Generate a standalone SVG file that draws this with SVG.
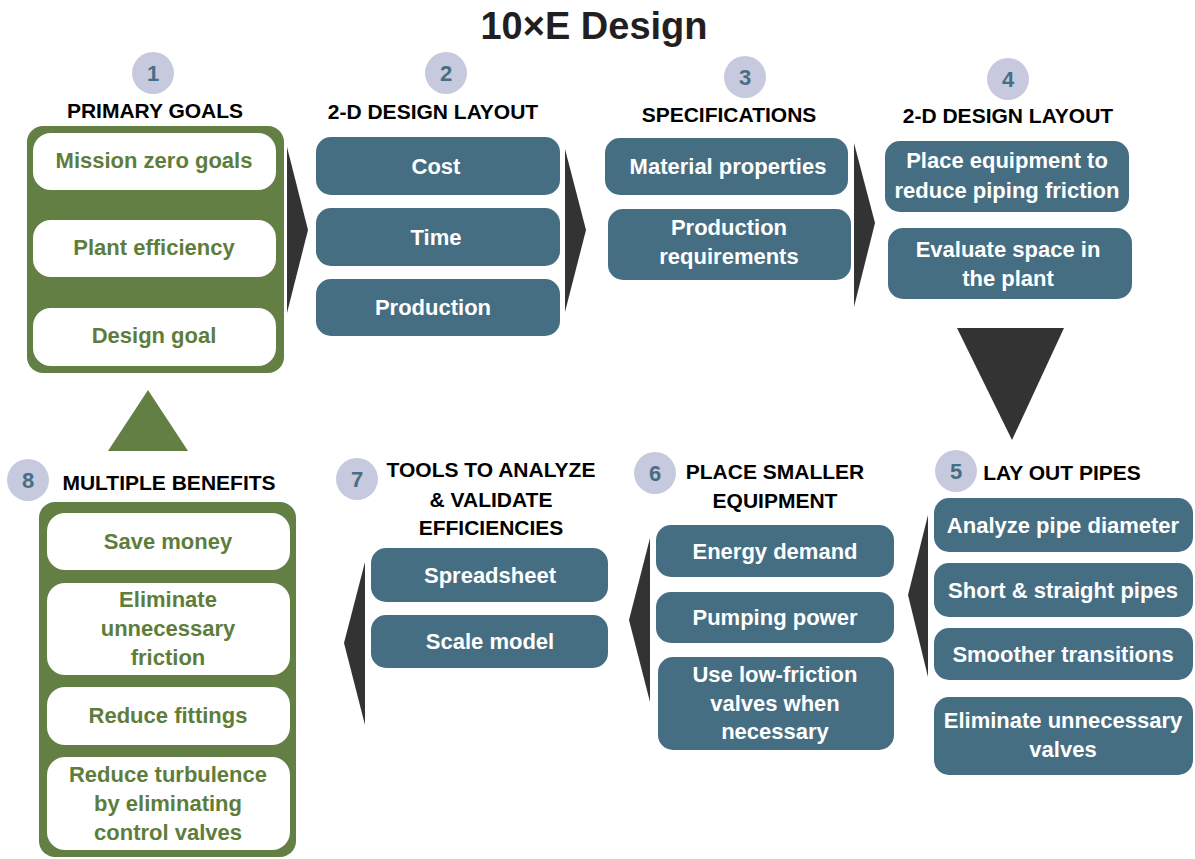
<svg xmlns="http://www.w3.org/2000/svg" width="1195" height="859" viewBox="0 0 1195 859">
  <style>
    text { font-family: "Liberation Sans", Arial, sans-serif; font-weight: bold; text-anchor: middle; }
    .title { font-size: 38px; fill: #231f20; }
    .head { font-size: 21px; fill: #000; }
    .num { font-size: 22px; fill: #466f84; }
    .badge { fill: #c7c9de; }
    .blue { fill: #466e83; }
    .btxt { font-size: 22px; fill: #fff; }
    .frame { fill: #647f44; }
    .white { fill: #fff; }
    .gtxt { font-size: 22px; fill: #5e7d3b; }
    .arrow { fill: #333333; }
    .garrow { fill: #647f44; }
  </style>

  <text class="title" x="594" y="39">10×E Design</text>

  <!-- flow arrows between the stages -->
  <g id="connectors">
    <polygon class="arrow" points="287,147 308,230 287,313"/>
    <polygon class="arrow" points="565,149 586,230 565,312"/>
    <polygon class="arrow" points="854,143 875,223 854,307"/>
    <polygon class="arrow" points="957,328 1064,328 1012,440"/>
    <polygon class="arrow" points="928,515 908,595 928,677"/>
    <polygon class="arrow" points="650,538 629,620 650,702"/>
    <polygon class="arrow" points="365,562 344,643 365,725"/>
    <polygon class="garrow" points="108,451 188,451 148,390"/>
  </g>

  <!-- 1: primary goals -->
  <g id="stage1">
    <circle class="badge" cx="153" cy="73" r="21"/>
    <text class="num" x="153" y="81">1</text>
    <text class="head" x="155" y="118">PRIMARY GOALS</text>
    <rect class="frame" x="27" y="126" width="257" height="247" rx="16"/>
    <rect class="white" x="33" y="133" width="243" height="57" rx="18"/>
    <text class="gtxt" x="154" y="168">Mission zero goals</text>
    <rect class="white" x="33" y="220" width="243" height="57" rx="18"/>
    <text class="gtxt" x="154" y="255">Plant efficiency</text>
    <rect class="white" x="33" y="308" width="243" height="58" rx="18"/>
    <text class="gtxt" x="154" y="343">Design goal</text>
  </g>

  <!-- 2: 2-D design layout -->
  <g id="stage2">
    <circle class="badge" cx="446" cy="73" r="21"/>
    <text class="num" x="446" y="81">2</text>
    <text class="head" x="433" y="119">2-D DESIGN LAYOUT</text>
    <rect class="blue" x="316" y="137" width="244" height="58" rx="15"/>
    <text class="btxt" x="436" y="174">Cost</text>
    <rect class="blue" x="316" y="208" width="244" height="58" rx="15"/>
    <text class="btxt" x="436" y="245">Time</text>
    <rect class="blue" x="316" y="279" width="244" height="57" rx="15"/>
    <text class="btxt" x="433" y="315">Production</text>
  </g>

  <!-- 3: specifications -->
  <g id="stage3">
    <circle class="badge" cx="745" cy="77" r="21"/>
    <text class="num" x="745" y="85">3</text>
    <text class="head" x="729" y="122">SPECIFICATIONS</text>
    <rect class="blue" x="605" y="138" width="243" height="57" rx="15"/>
    <text class="btxt" x="728" y="174">Material properties</text>
    <rect class="blue" x="608" y="209" width="243" height="71" rx="15"/>
    <text class="btxt" x="729" y="235">Production</text>
    <text class="btxt" x="729" y="264">requirements</text>
  </g>

  <!-- 4: 2-D design layout -->
  <g id="stage4">
    <circle class="badge" cx="1008" cy="79" r="21"/>
    <text class="num" x="1008" y="87">4</text>
    <text class="head" x="1008" y="123">2-D DESIGN LAYOUT</text>
    <rect class="blue" x="885" y="141" width="244" height="71" rx="15"/>
    <text class="btxt" x="1007" y="168">Place equipment to</text>
    <text class="btxt" x="1007" y="198">reduce piping friction</text>
    <rect class="blue" x="888" y="228" width="244" height="71" rx="15"/>
    <text class="btxt" x="1008" y="257">Evaluate space in</text>
    <text class="btxt" x="1008" y="286">the plant</text>
  </g>

  <!-- 5: lay out pipes -->
  <g id="stage5">
    <circle class="badge" cx="956" cy="471" r="21"/>
    <text class="num" x="956" y="479">5</text>
    <text class="head" x="1062" y="480">LAY OUT PIPES</text>
    <rect class="blue" x="934" y="498" width="259" height="54" rx="15"/>
    <text class="btxt" x="1063" y="533">Analyze pipe diameter</text>
    <rect class="blue" x="934" y="563" width="259" height="54" rx="15"/>
    <text class="btxt" x="1063" y="598">Short &amp; straight pipes</text>
    <rect class="blue" x="934" y="628" width="259" height="52" rx="15"/>
    <text class="btxt" x="1063" y="662">Smoother transitions</text>
    <rect class="blue" x="934" y="697" width="259" height="78" rx="15"/>
    <text class="btxt" x="1063" y="728">Eliminate unnecessary</text>
    <text class="btxt" x="1063" y="757">valves</text>
  </g>

  <!-- 6: place smaller equipment -->
  <g id="stage6">
    <circle class="badge" cx="655" cy="473" r="21"/>
    <text class="num" x="655" y="481">6</text>
    <text class="head" x="775" y="479">PLACE SMALLER</text>
    <text class="head" x="775" y="508">EQUIPMENT</text>
    <rect class="blue" x="656" y="525" width="238" height="52" rx="15"/>
    <text class="btxt" x="775" y="559">Energy demand</text>
    <rect class="blue" x="656" y="592" width="238" height="51" rx="15"/>
    <text class="btxt" x="775" y="625">Pumping power</text>
    <rect class="blue" x="658" y="657" width="236" height="93" rx="15"/>
    <text class="btxt" x="775" y="682">Use low-friction</text>
    <text class="btxt" x="775" y="711">valves when</text>
    <text class="btxt" x="775" y="739">necessary</text>
  </g>

  <!-- 7: tools to analyze and validate -->
  <g id="stage7">
    <circle class="badge" cx="357" cy="479" r="21"/>
    <text class="num" x="357" y="487">7</text>
    <text class="head" x="491" y="477">TOOLS TO ANALYZE</text>
    <text class="head" x="491" y="507">&amp; VALIDATE</text>
    <text class="head" x="491" y="535">EFFICIENCIES</text>
    <rect class="blue" x="371" y="548" width="237" height="54" rx="15"/>
    <text class="btxt" x="490" y="583">Spreadsheet</text>
    <rect class="blue" x="371" y="615" width="237" height="53" rx="15"/>
    <text class="btxt" x="490" y="649">Scale model</text>
  </g>

  <!-- 8: multiple benefits -->
  <g id="stage8">
    <circle class="badge" cx="28" cy="480" r="21"/>
    <text class="num" x="28" y="488">8</text>
    <text class="head" x="169" y="490">MULTIPLE BENEFITS</text>
    <rect class="frame" x="39" y="502" width="257" height="355" rx="16"/>
    <rect class="white" x="47" y="513" width="243" height="57" rx="18"/>
    <text class="gtxt" x="168" y="549">Save money</text>
    <rect class="white" x="47" y="583" width="243" height="92" rx="18"/>
    <text class="gtxt" x="168" y="607">Eliminate</text>
    <text class="gtxt" x="168" y="636">unnecessary</text>
    <text class="gtxt" x="168" y="665">friction</text>
    <rect class="white" x="47" y="687" width="243" height="58" rx="18"/>
    <text class="gtxt" x="168" y="723">Reduce fittings</text>
    <rect class="white" x="47" y="757" width="243" height="93" rx="18"/>
    <text class="gtxt" x="168" y="782">Reduce turbulence</text>
    <text class="gtxt" x="168" y="811">by eliminating</text>
    <text class="gtxt" x="168" y="840">control valves</text>
  </g>
</svg>
